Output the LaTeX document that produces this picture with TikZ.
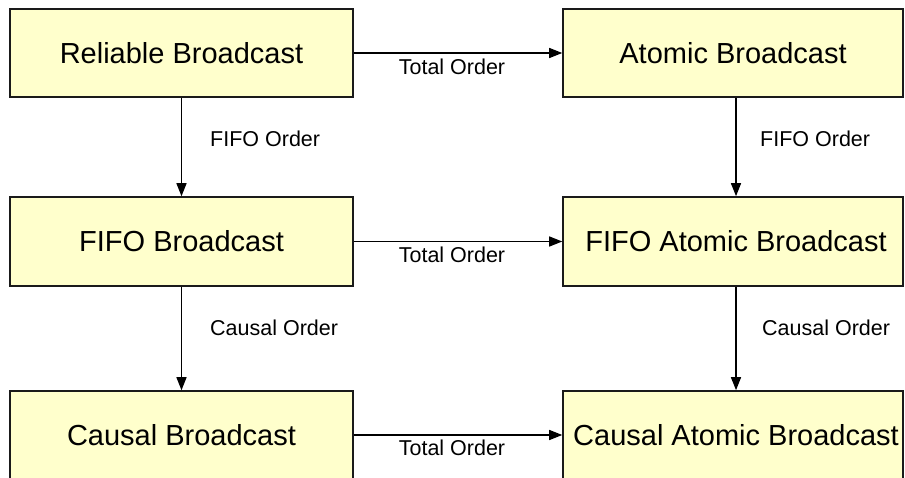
\documentclass[tikz,border=0pt]{standalone}
\usepackage{fontspec}
\setmainfont{Liberation Sans}
\usetikzlibrary{arrows.meta}
\definecolor{boxfill}{HTML}{FFFFCC}
\definecolor{edge}{HTML}{1A1A1A}
\tikzset{
  bcast/.style={draw=edge, fill=boxfill, line width=1.6pt, inner sep=0pt,
    font=\fontsize{29}{34}\selectfont},
  leftbox/.style={bcast, minimum width=343pt},
  rightbox/.style={bcast, minimum width=340pt},
  conn/.style={draw=black, line width=1.3pt, -{Triangle[length=13pt,width=10pt]}},
  lbl/.style={font=\fontsize{21.5}{25}\selectfont, inner sep=0pt}
}
\begin{document}
\begin{tikzpicture}[x=1pt,y=1pt]
\useasboundingbox (0,0) rectangle (905,477);
\clip (0,0) rectangle (905,477);
% boxes (y = 477 - image y)
\node[leftbox, minimum height=88pt] (rb) at (181.5,424) {Reliable Broadcast};
\node[rightbox, minimum height=88pt] (ab) at (733,424) {Atomic Broadcast};
\node[leftbox, minimum height=89pt] (fb) at (181.5,235.5) {FIFO Broadcast};
\node[rightbox, minimum height=89pt] (fab) at (733,235.5) {\hspace*{6pt}FIFO Atomic Broadcast};
\node[leftbox, minimum height=88pt] (cb) at (181.5,42) {Causal Broadcast};
\node[rightbox, minimum height=88pt] (cab) at (733,42) {\hspace*{6pt}Causal Atomic Broadcast};
% horizontal connectors
\draw[conn] (rb) -- (ab);
\draw[conn] (fb) -- (fab);
\draw[conn] (cb) -- (cab);
% vertical connectors
\draw[conn] (rb.south) -- (fb.north);
\draw[conn] (fb.south) -- (cb.north);
\draw[conn] ([xshift=3pt]ab.south) -- ([xshift=3pt]fab.north);
\draw[conn] ([xshift=3pt]fab.south) -- ([xshift=3pt]cab.north);
% labels
\node[lbl] (t1) at (452,410) {Total Order};
\node[lbl] (t2) at (452,222) {Total Order};
\node[lbl] (t3) at (452,29) {Total Order};
\node[lbl, anchor=west] (f1) at (210,338) {FIFO Order};
\node[lbl, anchor=west] (f2) at (760,338) {FIFO Order};
\node[lbl, anchor=west] (c1) at (210,149) {Causal Order};
\node[lbl, anchor=west] (c2) at (762,149) {Causal Order};
\end{tikzpicture}
\end{document}
